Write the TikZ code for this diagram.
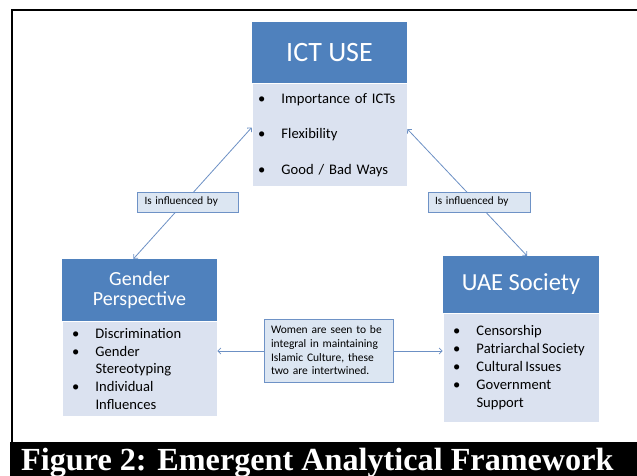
\documentclass[tikz,border=0pt]{standalone}
\usepackage{fontspec}
\setmainfont{Carlito}
\newfontfamily\capfont{Liberation Serif}
\usetikzlibrary{arrows.meta, positioning}
\definecolor{headblue}{RGB}{79,129,189}
\definecolor{listblue}{RGB}{219,226,240}
\definecolor{remarkblue}{RGB}{220,230,242}
\definecolor{remarkedge}{RGB}{110,146,198}
\definecolor{linkblue}{RGB}{108,144,196}
\newcommand{\itm}{\makebox[23.5pt][l]{\textbullet}}
\newcommand{\cnt}{\hspace*{23.5pt}}

\begin{document}
\begin{tikzpicture}[x=1pt, y=-1pt,
    hdr/.style={fill=headblue, text=white, minimum width=155pt, align=center,
                inner sep=0pt},
    lst/.style={draw=white, line width=0.6pt, fill=listblue, minimum width=155pt,
                text width=143pt, inner xsep=6pt, inner ysep=0pt, align=left},
    remark/.style={draw=remarkedge, fill=remarkblue, line width=0.7pt, align=left,
                   inner xsep=7pt, inner ysep=0pt},
    arr/.style={{Straight Barb[length=3pt,width=6pt]}-{Straight Barb[length=3pt,width=6pt]},
                draw=linkblue, line width=0.8pt},
  ]
    \useasboundingbox (0,0) rectangle (637,476);
    \draw[line width=2pt] (637,10) -- (12,10) -- (12,442);

    \node[hdr, minimum height=61pt, font=\fontsize{28}{30}\selectfont] (ict) at (329.5,52.5) {ICT USE};
    \node[lst, below=0pt of ict, minimum height=103pt, font=\fontsize{14.6}{35.5}\selectfont] (ictlist)
      {\itm Importance of ICTs\\ \itm Flexibility\\ \itm Good / Bad Ways};

    \node[hdr, minimum height=62pt, font=\fontsize{20}{20.5}\selectfont] (gender) at (139.5,290) {Gender\\Perspective};
    \node[lst, below=0pt of gender, minimum height=95pt, text width=135pt, inner xsep=10pt,
          font=\fontsize{14.6}{17.7}\selectfont] (genderlist)
      {\itm Discrimination\\ \itm Gender\\ \cnt Stereotyping\\ \itm Individual\\ \cnt Influences};

    \node[hdr, minimum width=156pt, minimum height=57pt, font=\fontsize{24.5}{26}\selectfont] (uae) at (521,284.5) {UAE Society};
    \node[lst, below=0pt of uae, minimum width=156pt, minimum height=109pt, text width=136pt, inner xsep=10pt,
          font=\fontsize{14.6}{18}\selectfont] (uaelist)
      {\itm Censorship\\ \itm Patriarchal\hspace{2.2pt}Society\\ \itm Cultural\hspace{2.5pt}Issues\\ \itm Government\\ \cnt Support};

    \draw[arr] ([xshift=-6pt]gender.north) -- ([yshift=7.5pt]ictlist.west);
    \draw[arr] ([yshift=6pt]ictlist.east) -- ([xshift=6pt]uae.north);
    \draw[arr] ([yshift=18pt]genderlist.east) -- ([yshift=18pt]genderlist.east -| uaelist.west);

    \node[remark, minimum width=101pt, minimum height=20pt, text width=86pt, font=\fontsize{11.2}{13}\selectfont] (leftlabel) at (187.5,202) {Is influenced by};
    \node[remark, minimum width=102pt, minimum height=20pt, text width=88pt, font=\fontsize{11.2}{13}\selectfont] (rightlabel) at (479,202) {Is influenced by};
    \node[remark, minimum width=129pt, minimum height=63pt, text width=115pt, font=\fontsize{11.5}{13.7}\selectfont] (link) at (328.5,350.5)
      {Women are seen to be\\integral in maintaining\\Islamic Culture, these\\two are intertwined.};

    \fill[black] (10,442) rectangle (637,476);
    \node[anchor=base west, text=white, inner sep=0pt, font=\capfont\bfseries\fontsize{32.2}{33}\selectfont] (caption) at (21,470)
      {Figure 2: Emergent Analytical Framework};
  \end{tikzpicture}
\end{document}
